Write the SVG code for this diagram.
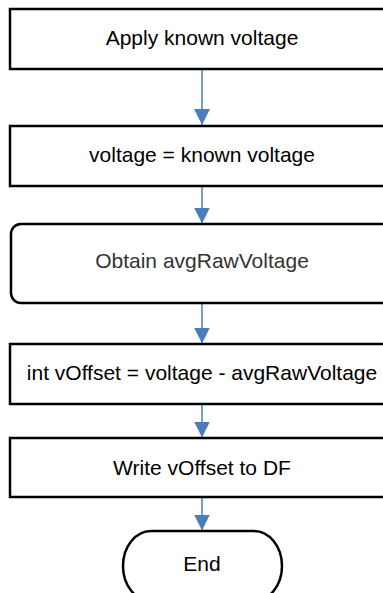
<svg xmlns="http://www.w3.org/2000/svg" width="383" height="593" viewBox="0 0 383 593">
<defs>
<marker id="ah" viewBox="0 0 16 16" refX="16" refY="8" markerWidth="16" markerHeight="16" markerUnits="userSpaceOnUse" orient="auto">
<path d="M0,0 L16,8 L0,16 Z" fill="#4a7ebb"/>
</marker>
</defs>
<style>
.box{fill:#ffffff;stroke:#000000;stroke-width:2.5}
.lbl{font-family:"Liberation Sans",Arial,sans-serif;font-size:21px;fill:#000000;text-anchor:middle}
.conn{stroke:#4a7ebb;stroke-width:1.5;fill:none}
</style>
<rect width="383" height="593" fill="#ffffff"/>
<g id="connectors">
<line class="conn" x1="202" y1="69" x2="202" y2="125" marker-end="url(#ah)"/>
<line class="conn" x1="202" y1="186" x2="202" y2="223.5" marker-end="url(#ah)"/>
<line class="conn" x1="202" y1="303" x2="202" y2="343.5" marker-end="url(#ah)"/>
<line class="conn" x1="202" y1="404" x2="202" y2="437.5" marker-end="url(#ah)"/>
<line class="conn" x1="202" y1="497" x2="202" y2="530.5" marker-end="url(#ah)"/>
</g>
<g id="n1">
<rect class="box" x="10" y="9" width="385" height="60"/>
<text class="lbl" x="202" y="45">Apply known voltage</text>
</g>
<g id="n2">
<rect class="box" x="10" y="126" width="385" height="60"/>
<text class="lbl" x="202" y="162">voltage = known voltage</text>
</g>
<g id="n3">
<rect class="box" x="11" y="224" width="384" height="79" rx="10" ry="10"/>
<text class="lbl" x="202" y="268" style="fill:#333333">Obtain avgRawVoltage</text>
</g>
<g id="n4">
<rect class="box" x="10" y="344" width="385" height="60"/>
<text class="lbl" x="202" y="380">int vOffset = voltage - avgRawVoltage</text>
</g>
<g id="n5">
<rect class="box" x="10" y="438" width="385" height="59"/>
<text class="lbl" x="202" y="475">Write vOffset to DF</text>
</g>
<g id="n6">
<rect class="box" x="123" y="531" width="159" height="70" rx="28" ry="35"/>
<text class="lbl" x="202" y="571">End</text>
</g>
</svg>
